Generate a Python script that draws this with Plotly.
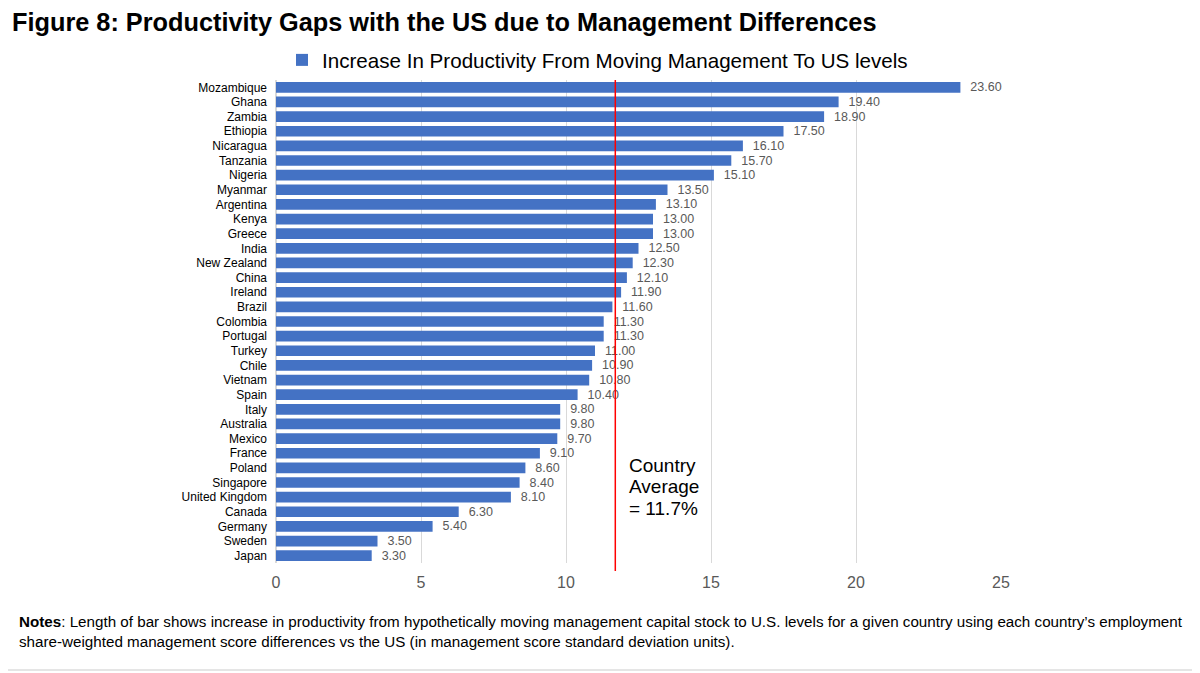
import plotly.graph_objects as go

countries = ["Mozambique", "Ghana", "Zambia", "Ethiopia", "Nicaragua", "Tanzania", "Nigeria",
             "Myanmar", "Argentina", "Kenya", "Greece", "India", "New Zealand", "China", "Ireland",
             "Brazil", "Colombia", "Portugal", "Turkey", "Chile", "Vietnam", "Spain", "Italy",
             "Australia", "Mexico", "France", "Poland", "Singapore", "United Kingdom", "Canada",
             "Germany", "Sweden", "Japan"]
values = [23.6, 19.4, 18.9, 17.5, 16.1, 15.7, 15.1, 13.5, 13.1, 13.0, 13.0, 12.5, 12.3, 12.1, 11.9,
          11.6, 11.3, 11.3, 11.0, 10.9, 10.8, 10.4, 9.8, 9.8, 9.7, 9.1, 8.6, 8.4, 8.1, 6.3, 5.4, 3.5, 3.3]
country_average = 11.7
x_ticks = [0, 5, 10, 15, 20, 25]
series_name = "Increase In Productivity From Moving Management To US levels"
avg_lines = ["Country", "Average", f"= {country_average}%"]

# page is rendered with an 8px body margin -> work in shifted coordinates
OFF = 8
W, H = 1200 - OFF, 673 - OFF
L = 276 - OFF
T = 80 - OFF
PB = 563 - OFF          # plot bottom
PR = 1001 - OFF         # plot right
R = W - PR
B = H - PB
pw = PR - L
ph = PB - T


def py(ref_y):
    """paper y for a reference-image pixel y"""
    return (PB - (ref_y - OFF)) / ph


def px(ref_x):
    return ((ref_x - OFF) - L) / pw


FONT = "Liberation Sans, Arial"

fig = go.Figure()
fig.add_trace(go.Bar(
    x=values, y=countries, orientation="h", name=series_name,
    marker=dict(color="#4472C4", line=dict(color="#4472C4", width=0)),
    text=[f"  {v:.2f}" for v in values], textposition="outside", constraintext="none",
    textfont=dict(family=FONT, size=12.5, color="#595959"),
    cliponaxis=False,
))

fig.add_shape(type="line", xref="x", yref="paper", x0=country_average, x1=country_average,
              y0=py(571), y1=1.0, line=dict(color="#FF0000", width=1.5), layer="above")

for line, ry in zip(avg_lines, [465, 486.5, 508]):
    fig.add_annotation(xref="x", yref="paper", x=country_average, y=py(ry),
                       xanchor="left", yanchor="middle", xshift=12, showarrow=False, align="left",
                       text=line, font=dict(family=FONT, size=19, color="#000000"))

fig.add_annotation(xref="paper", yref="paper", x=px(17), y=py(631),
                   xanchor="left", yanchor="middle", showarrow=False, align="left",
                   text="<b>Notes</b>: Length of bar shows increase in productivity from hypothetically moving management capital stock to U.S. levels for a given country using each country’s employment<br>share-weighted management score differences vs the US (in management score standard deviation units).",
                   font=dict(family=FONT, size=15.2, color="#000000"))

fig.add_shape(type="line", xref="paper", yref="paper", x0=px(0), x1=px(1200),
              y0=py(670), y1=py(670), line=dict(color="#E5E5E5", width=2))

fig.update_layout(
    width=W, height=H,
    margin=dict(l=L, r=R, t=T, b=B),
    paper_bgcolor="white", plot_bgcolor="white",
    title=dict(text="<b>Figure 8: Productivity Gaps with the US due to Management Differences</b>",
               x=(12 - OFF) / W, xanchor="left", xref="container",
               y=1 - (22 - OFF) / H, yanchor="middle", yref="container",
               font=dict(family=FONT, size=25.3, color="#000000")),
    showlegend=True,
    legend=dict(orientation="h", x=px(282), xanchor="left", y=py(60), yanchor="middle",
                font=dict(family=FONT, size=20.6, color="#000000"),
                itemwidth=30, bgcolor="rgba(0,0,0,0)"),
    bargap=0.27,
    font=dict(family=FONT),
)
fig.update_xaxes(range=[0, 25], tickvals=x_ticks, showgrid=True, gridcolor="#D9D9D9", gridwidth=1,
                 zeroline=True, zerolinecolor="#D9D9D9", showline=False, ticks="",
                 tickfont=dict(size=16, color="#595959"), ticklabelstandoff=8)
fig.update_yaxes(autorange="reversed", showgrid=False, ticks="", showline=False,
                 tickfont=dict(size=12, color="#000000"), ticklabelstandoff=8)

fig.write_html("out.html")
